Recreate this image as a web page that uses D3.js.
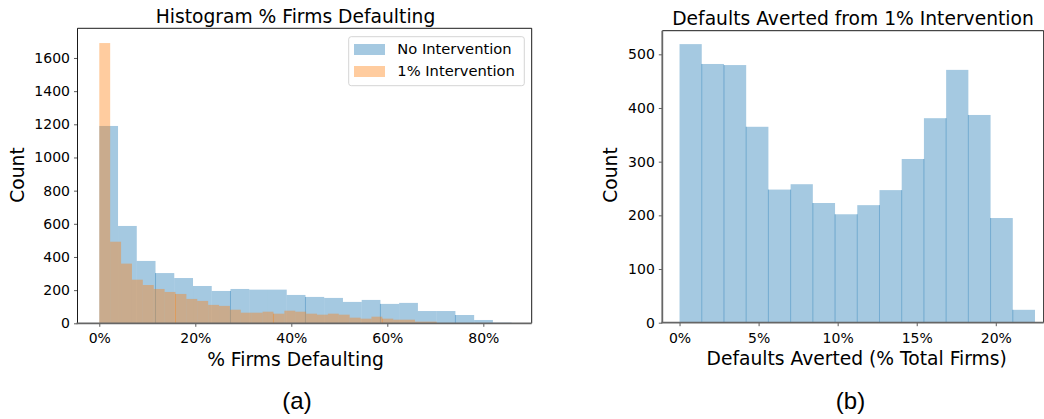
<!DOCTYPE html>
<html>
<head>
<meta charset="utf-8">
<script src="https://cdn.jsdelivr.net/npm/d3@7"></script>
<style>
  body { margin: 0; background: #fff; }
  text { font-family: "DejaVu Sans", sans-serif; fill: #000; }
</style>
</head>
<body>
<svg id="chart" width="1044" height="419"></svg>
<script>
// ---- data ----
// (a) histogram of % firms defaulting, equal-width bins starting at 0
var noInterventionCounts = [1190, 587, 376, 303, 273, 225, 195, 207, 203, 203, 171, 159, 153, 129, 141, 117, 123, 74, 74, 50, 20, 4];
var noInterventionUpper = 0.859;
var interventionCounts = [1690, 492, 360, 263, 231, 207, 189, 177, 147, 135, 111, 105, 82, 64, 64, 70, 58, 76, 70, 58, 52, 58, 52, 34, 28, 40, 28, 22, 22, 10, 10];
var interventionUpper = 0.703;
var seriesNames = ["No Intervention", "1% Intervention"];
var pctTicksA = [0, 0.2, 0.4, 0.6, 0.8];
var countTicksA = [0, 200, 400, 600, 800, 1000, 1200, 1400, 1600];

// (b) histogram of defaults averted
var avertedCounts = [519, 482, 480, 365, 248, 258, 223, 202, 219, 247, 305, 381, 471, 387, 195, 24];
var avertedUpper = 0.2248;
var pctTicksB = [0, 0.05, 0.1, 0.15, 0.2];
var countTicksB = [0, 100, 200, 300, 400, 500];

var blue = "#1f77b4", orange = "#ff7f0e";

var svg = d3.select("#chart");

function toBins(counts, upper) {
  var w = upper / counts.length;
  return counts.map(function(c, i) { return {x0: i * w, x1: (i + 1) * w, n: c}; });
}

function drawBars(g, bins, x, y, color) {
  g.append("g").selectAll("rect")
    .data(bins)
    .enter()
    .append("rect")
    .attr("x", function(d) { return x(d.x0); })
    .attr("width", function(d) { return x(d.x1) - x(d.x0); })
    .attr("y", function(d) { return y(d.n); })
    .attr("height", function(d) { return y(0) - y(d.n); })
    .attr("fill", color)
    .attr("fill-opacity", 0.4);
}

// darker seams where neighbouring bars overlap
function drawSeams(g, bins, idx, x, y, color) {
  g.append("g").selectAll("line")
    .data(idx)
    .enter()
    .append("line")
    .attr("x1", function(i) { return x(bins[i].x0); })
    .attr("x2", function(i) { return x(bins[i].x0); })
    .attr("y1", y(0))
    .attr("y2", function(i) { return y(Math.min(bins[i].n, bins[i - 1].n)); })
    .attr("stroke", color)
    .attr("stroke-opacity", 0.4)
    .attr("stroke-width", 1);
}

function drawAxes(g, x, y, xt, yt, box, spines) {
  var xa = g.append("g")
    .attr("transform", "translate(0," + box.bottom + ")")
    .call(d3.axisBottom(x).tickValues(xt).tickFormat(d3.format(".0%")).tickSize(3.5).tickPadding(6.5));
  var ya = g.append("g")
    .attr("transform", "translate(" + box.left + ",0)")
    .call(d3.axisLeft(y).tickValues(yt).tickFormat(d3.format("d")).tickSize(3.5).tickPadding(4));
  [xa, ya].forEach(function(a) {
    a.select(".domain").remove();
    a.selectAll(".tick line").attr("stroke", "#333").attr("stroke-width", 0.8);
    a.selectAll(".tick text").attr("font-size", 14).attr("font-family", "DejaVu Sans").attr("fill", "#000");
  });
  // spines
  g.append("line").attr("x1", box.left).attr("x2", box.right).attr("y1", box.top).attr("y2", box.top)
    .attr("stroke", "#000").attr("stroke-width", 0.9);
  g.append("line").attr("x1", box.right).attr("x2", box.right).attr("y1", box.top).attr("y2", box.bottom)
    .attr("stroke", "#000").attr("stroke-width", 0.9);
  g.append("line").attr("x1", box.left).attr("x2", box.left).attr("y1", box.top).attr("y2", box.bottom)
    .attr("stroke", spines.left).attr("stroke-width", spines.leftW);
  g.append("line").attr("x1", box.left - 1).attr("x2", box.right).attr("y1", box.bottom).attr("y2", box.bottom)
    .attr("stroke", "#666").attr("stroke-width", 1.8);
}

// ---------- panel (a) ----------
var boxA = {left: 77.5, right: 531.7, top: 28.3, bottom: 323.3};
var xA = d3.scaleLinear().domain([-0.0454, 0.9008]).range([boxA.left, boxA.right]);
var yA = d3.scaleLinear().domain([0, 1779]).range([boxA.bottom, boxA.top]);
var gA = svg.append("g");

var binsNo = toBins(noInterventionCounts, noInterventionUpper);
var binsYes = toBins(interventionCounts, interventionUpper);
drawBars(gA, binsNo, xA, yA, blue);
drawSeams(gA, binsNo, [3, 7, 11, 15, 19], xA, yA, blue);
drawBars(gA, binsYes, xA, yA, orange);
drawSeams(gA, binsYes, [7, 16, 26], xA, yA, orange);
drawAxes(gA, xA, yA, pctTicksA, countTicksA, boxA, {left: "#000", leftW: 0.9});

gA.append("text").attr("x", 295.5).attr("y", 22.5).attr("text-anchor", "middle")
  .attr("font-size", 18.7).text("Histogram % Firms Defaulting");
gA.append("text").attr("x", 295.5).attr("y", 365.5).attr("text-anchor", "middle")
  .attr("font-size", 18.7).text("% Firms Defaulting");
gA.append("text").attr("transform", "translate(24,175) rotate(-90)").attr("text-anchor", "middle")
  .attr("font-size", 18.7).text("Count");
gA.append("text").attr("x", 297).attr("y", 409).attr("text-anchor", "middle")
  .style("font-family", "'Liberation Sans', Arial, sans-serif").attr("font-size", 24).text("(a)");

// legend
var leg = gA.append("g").attr("transform", "translate(348.7,36.7)");
leg.append("rect").attr("width", 175.6).attr("height", 49).attr("rx", 2.5)
  .attr("fill", "#fff").attr("fill-opacity", 0.8).attr("stroke", "#d0d0d0").attr("stroke-width", 0.9);
[blue, orange].forEach(function(c, i) {
  leg.append("rect").attr("x", 5.3).attr("y", 7.3 + i * 22).attr("width", 31).attr("height", 11)
    .attr("fill", c).attr("fill-opacity", 0.4);
  leg.append("text").attr("x", 48.6).attr("y", 17.6 + i * 22).attr("font-size", 14.7).text(seriesNames[i]);
});

// ---------- panel (b) ----------
var boxB = {left: 662.3, right: 1043.7, top: 30.7, bottom: 322.7};
var xB = d3.scaleLinear().domain([-0.0109, 0.2303]).range([boxB.left, boxB.right]);
var yB = d3.scaleLinear().domain([0, 544]).range([boxB.bottom, boxB.top]);
var gB = svg.append("g");

var binsAv = toBins(avertedCounts, avertedUpper);
drawBars(gB, binsAv, xB, yB, blue);
drawSeams(gB, binsAv, d3.range(1, binsAv.length), xB, yB, blue);
drawAxes(gB, xB, yB, pctTicksB, countTicksB, boxB, {left: "#666", leftW: 1.8});

gB.append("text").attr("x", 853).attr("y", 24.5).attr("text-anchor", "middle")
  .attr("font-size", 18.7).text("Defaults Averted from 1% Intervention");
gB.append("text").attr("x", 856.7).attr("y", 365).attr("text-anchor", "middle")
  .attr("font-size", 18.7).text("Defaults Averted (% Total Firms)");
gB.append("text").attr("transform", "translate(617,175) rotate(-90)").attr("text-anchor", "middle")
  .attr("font-size", 18.7).text("Count");
gB.append("text").attr("x", 850.5).attr("y", 409).attr("text-anchor", "middle")
  .style("font-family", "'Liberation Sans', Arial, sans-serif").attr("font-size", 24).text("(b)");
</script>
</body>
</html>
